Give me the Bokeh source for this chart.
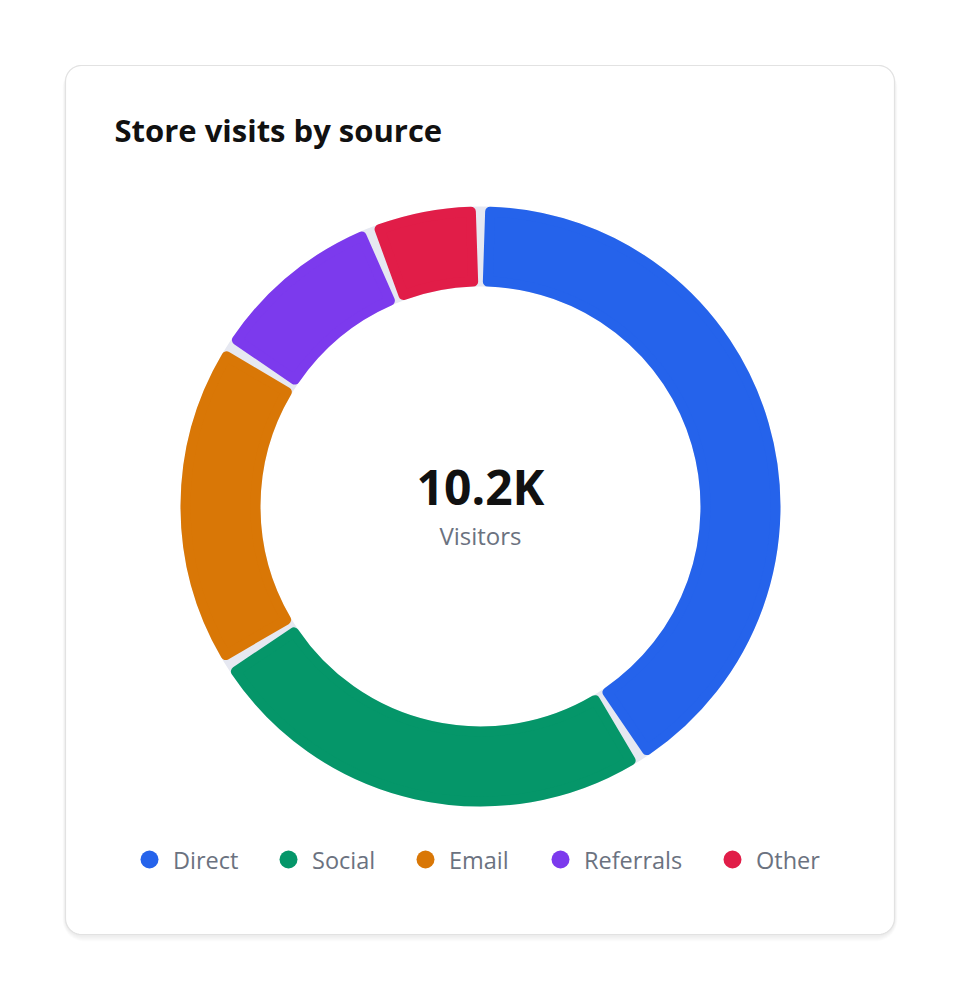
import numpy as np
from bokeh.plotting import figure
from bokeh.models import Range1d, ColumnDataSource
from bokeh.core.properties import value
from bokeh.embed import file_html
from bokeh.resources import INLINE

# ---- data ----
categories = ["Direct", "Social", "Email", "Referrals", "Other"]
visits = [4180, 2560, 1830, 1010, 620]
colors = ["#2563eb", "#059669", "#d97706", "#7c3aed", "#e11d48"]
title_text = "Store visits by source"
total_label = "10.2K"
total_sub = "Visitors"

# ---- layout (page pixel coordinates) ----
W, H = 944, 984
FONT = value("Open Sans")


def Y(py):
    return H - py


card_l, card_r, card_t, card_b, card_rad = 65, 894, 65, 934, 16
cx, cy = 480, Y(506)
r_in, r_out = 220, 300
corner = 5
gap = 7
legend_cx = [149, 288, 425, 560, 732]
legend_y = Y(859)


def rounded_rect(l, r, t, b, rad, n=12):
    xs, ys = [], []
    corners = [(r - rad, t + rad, -90, 0), (r - rad, b - rad, 0, 90),
               (l + rad, b - rad, 90, 180), (l + rad, t + rad, 180, 270)]
    for ccx, ccy, a0, a1 in corners:
        a = np.radians(np.linspace(a0, a1, n))
        xs.extend(ccx + rad * np.cos(a))
        ys.extend([Y(v) for v in ccy + rad * np.sin(a)])
    return xs, ys


p = figure(width=W, height=H, x_range=Range1d(0, W), y_range=Range1d(0, H),
           x_axis_type=None, y_axis_type=None, toolbar_location=None,
           output_backend="svg", min_border=0)
p.outline_line_color = None
p.background_fill_color = "white"
p.border_fill_color = "white"

# card shadow + card
for k in range(6, 0, -1):
    sx, sy = rounded_rect(card_l - k * 0.5, card_r + k * 0.5, card_t - k * 0.3 + 2,
                          card_b + k + 1, card_rad + k)
    p.patch(sx, sy, fill_color="black", fill_alpha=0.012, line_color=None)
cxs, cys = rounded_rect(card_l, card_r, card_t, card_b, card_rad)
p.patch(cxs, cys, fill_color="white", line_color="#e2e2e2", line_width=1.2)

# title
p.text(x=[114], y=[Y(129)], text=[title_text], text_font=FONT, text_font_size="31px",
       text_font_style="bold", text_color="#111111", text_baseline="middle")

# donut track
p.annular_wedge(x=cx, y=cy, inner_radius=r_in, outer_radius=r_out, start_angle=0,
                end_angle=2 * np.pi, fill_color="#e6e8f1", line_color=None)

# donut segments
total = float(sum(visits))
frac = np.array(visits) / total
cum_end = np.cumsum(frac)
cum_start = cum_end - frac
inset = np.degrees(np.arcsin((gap / 2 + corner) / ((r_in + r_out) / 2)))
src = ColumnDataSource(dict(
    cat=categories, val=visits, color=colors,
    start=90 - 360 * cum_end + inset,
    end=90 - 360 * cum_start - inset,
))
p.annular_wedge(x=cx, y=cy, inner_radius=r_in + corner, outer_radius=r_out - corner,
                start_angle="start", end_angle="end", start_angle_units="deg",
                end_angle_units="deg", direction="anticlock", fill_color="color",
                line_color="color", line_width=2 * corner, line_join="round", source=src)

# center labels
p.text(x=[cx], y=[Y(486)], text=[total_label], text_font=FONT, text_font_size="48px",
       text_font_style="bold", text_color="#111111", text_align="center",
       text_baseline="middle")
p.text(x=[cx], y=[Y(535)], text=[total_sub], text_font=FONT, text_font_size="24px",
       text_color="#6b7280", text_align="center", text_baseline="middle")

# legend
lsrc = ColumnDataSource(dict(x=legend_cx, tx=[v + 23.5 for v in legend_cx],
                             y=[legend_y] * len(categories), cat=categories, color=colors))
p.scatter(x="x", y="y", size=18, marker="circle", fill_color="color", line_color=None,
          source=lsrc)
p.text(x="tx", y="y", text="cat", text_font=FONT, text_font_size="23.5px",
       text_color="#6b7280", text_baseline="middle", source=lsrc)

open("out.html", "w").write(file_html(p, INLINE))
